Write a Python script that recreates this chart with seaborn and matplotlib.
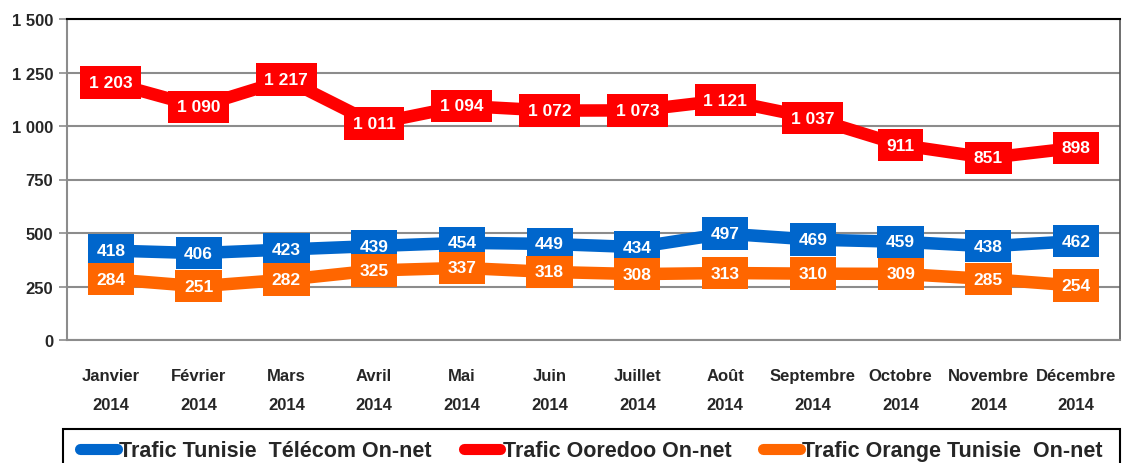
import matplotlib
matplotlib.use("Agg")
import matplotlib.pyplot as plt
import seaborn as sns
import pandas as pd
import numpy as np
from matplotlib.ticker import FixedLocator, FuncFormatter
from matplotlib.patches import Rectangle

months = ["Janvier\n2014", "Février\n2014", "Mars\n2014", "Avril\n2014", "Mai\n2014", "Juin\n2014",
          "Juillet\n2014", "Août\n2014", "Septembre\n2014", "Octobre\n2014", "Novembre\n2014", "Décembre\n2014"]
series_names = ["Trafic Tunisie  Télécom On-net", "Trafic Ooredoo On-net", "Trafic Orange Tunisie  On-net"]
telecom = [418, 406, 423, 439, 454, 449, 434, 497, 469, 459, 438, 462]
ooredoo = [1203, 1090, 1217, 1011, 1094, 1072, 1073, 1121, 1037, 911, 851, 898]
orange = [284, 251, 282, 325, 337, 318, 308, 313, 310, 309, 285, 254]
colors = ["#0066CC", "#FF0000", "#FF6600"]
yticks = [0, 250, 500, 750, 1000, 1250, 1500]

sns.set_theme(style="white")
FONT = ["Liberation Sans Narrow", "Liberation Sans", "DejaVu Sans"]
plt.rcParams["font.family"] = FONT

rows = []
for name, vals in zip(series_names, [telecom, ooredoo, orange]):
    for i, v in enumerate(vals):
        rows.append({"idx": i, "value": v, "series": name})
df = pd.DataFrame(rows)

fig = plt.figure(figsize=(11.23, 4.64), dpi=100)
ax = fig.add_axes([67/1123, 1-341/464, (1120-67)/1123, (341-20)/464])

sns.lineplot(data=df, x="idx", y="value", hue="series", hue_order=series_names,
             palette=colors, linewidth=9, ax=ax, legend=True, sort=False,
             solid_capstyle="butt", zorder=3)

def fmt(v):
    return f"{int(v):,}".replace(",", " ")

for name, vals, c in zip(series_names, [telecom, ooredoo, orange], colors):
    for i, v in enumerate(vals):
        ax.text(i, v, fmt(v), ha="center", va="center", color="white",
                fontsize=12.5, fontweight="bold", zorder=5,
                bbox=dict(boxstyle="square,pad=0.5", fc=c, ec="none"))

ax.set_xlim(-0.5, 11.5)
ax.set_ylim(0, 1500)
ax.yaxis.set_major_locator(FixedLocator(yticks))
ax.yaxis.set_major_formatter(FuncFormatter(lambda v, p: fmt(v)))
ax.set_xticks(range(12))
ax.set_xticklabels(months, fontsize=12, fontweight="bold", linespacing=2.2)
ax.xaxis.set_minor_locator(FixedLocator(np.arange(-0.5, 12, 1)))
ax.tick_params(axis="x", which="major", length=0, pad=20)
ax.tick_params(axis="x", which="minor", length=6, color="#8c8c8c", width=1.2)
ax.tick_params(axis="y", length=6, color="#8c8c8c", width=1.2, labelsize=12, pad=4, left=True)
for lab in ax.get_yticklabels():
    lab.set_fontweight("bold")
ax.grid(axis="y", color="#8c8c8c", linewidth=1.5)
ax.set_axisbelow(True)
ax.set_xlabel("")
ax.set_ylabel("")
for s in ["left", "bottom"]:
    ax.spines[s].set_color("#8c8c8c")
    ax.spines[s].set_linewidth(1.5)
ax.spines["top"].set_color("black")
ax.spines["top"].set_linewidth(1.5)
ax.spines["right"].set_color("#555555")
ax.spines["right"].set_linewidth(1.2)

handles, labels = ax.get_legend_handles_labels()
ax.get_legend().remove()
leg = fig.legend(handles, labels, loc="upper center",
                 bbox_to_anchor=(591.5/1123, 1-437/464),
                 borderaxespad=0, ncol=3, frameon=False,
                 prop={"family": FONT, "weight": "bold", "size": 15.5},
                 handlelength=1.7, handletextpad=0.1, borderpad=0.2, columnspacing=1.5)
for h in leg.get_lines():
    h.set_linewidth(8)
    h.set_solid_capstyle("round")

fig.patches.append(Rectangle((63/1123, -0.05), (1120-63)/1123, (1-430/464)+0.05,
                             transform=fig.transFigure, fill=False, edgecolor="black",
                             linewidth=1.5, clip_on=False))

fig.savefig("out.png", dpi=100)
